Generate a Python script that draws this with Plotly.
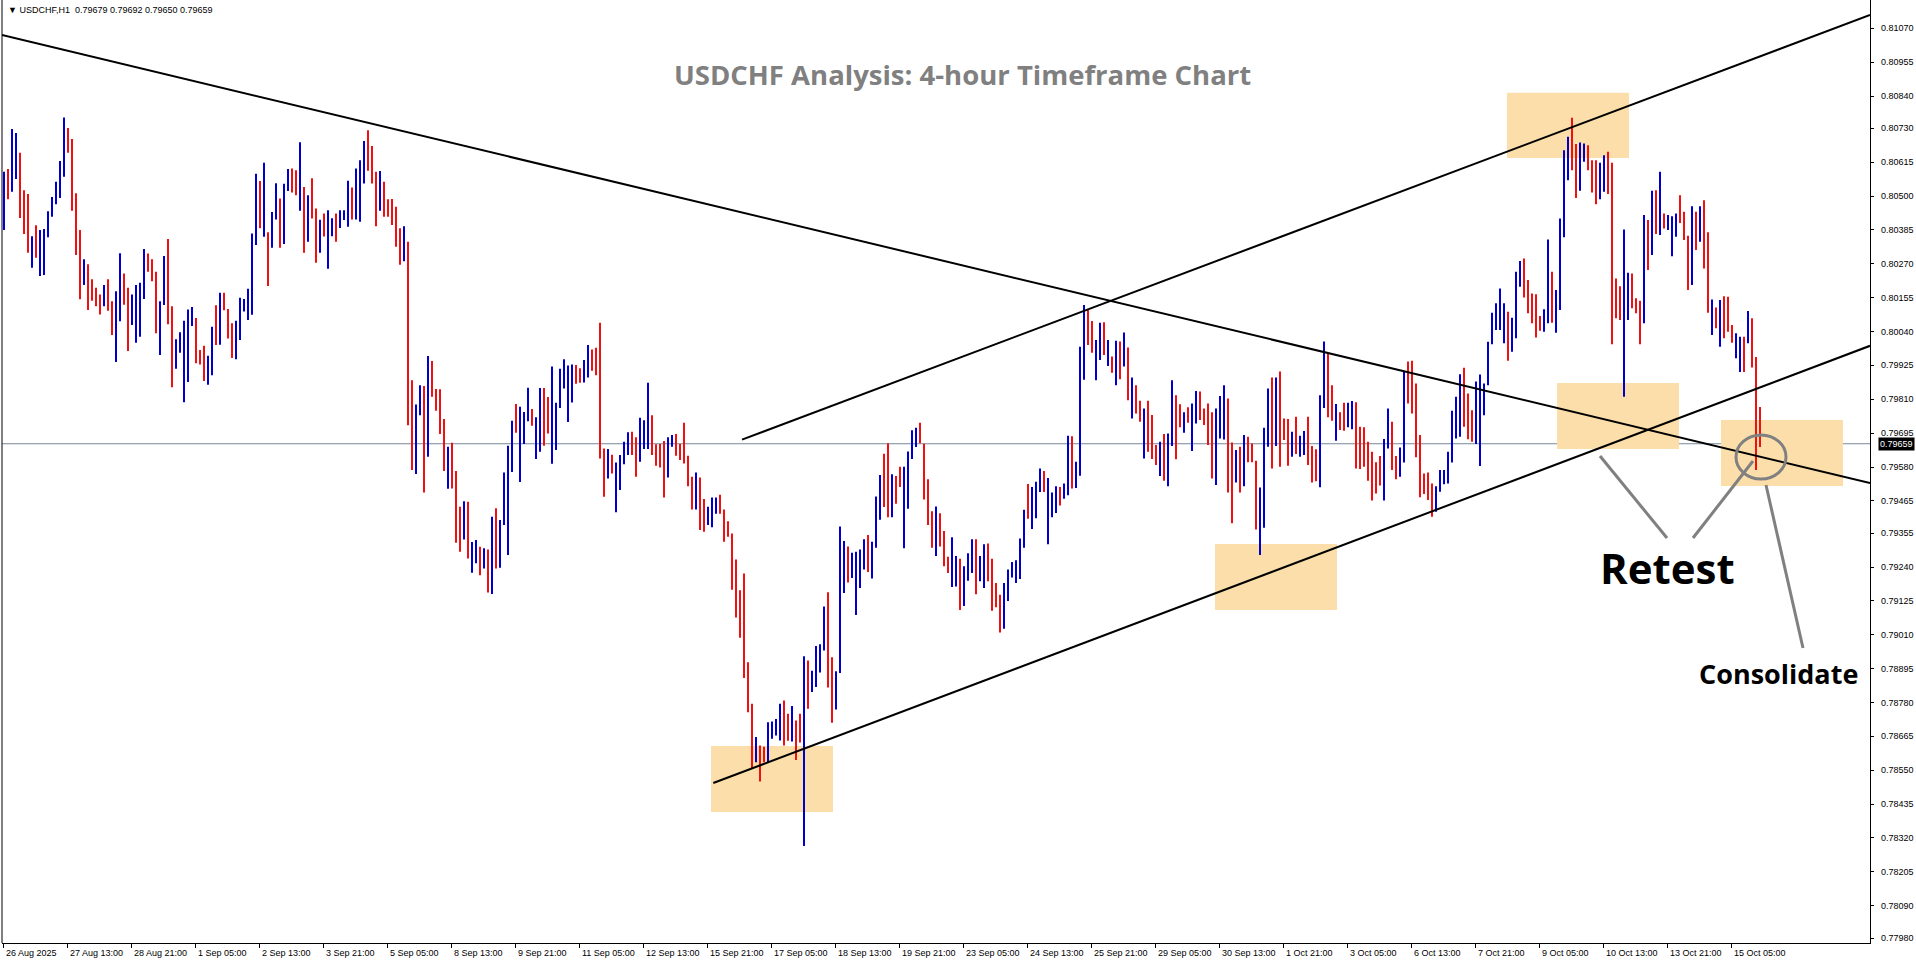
import plotly.graph_objects as go

# ---------------- data ----------------
header_text = "\u25bc USDCHF,H1\u00a0\u00a00.79679 0.79692 0.79650 0.79659"
title_text = "USDCHF Analysis: 4-hour Timeframe Chart"

# 2-hour bars (each = two H1 bars), prices in points (1e-5)
bar_high = [
    80583, 80592, 80728, 80714, 80647, 80520, 80507, 80364, 80401, 80385,
    80388, 80449, 80497, 80549, 80619, 80767, 80731, 80694, 80510, 80385,
    80286, 80269, 80218, 80189, 80166, 80198, 80218, 80143, 80177, 80306,
    80237, 80189, 80166, 80198, 80206, 80320, 80305, 80286, 80243, 80143,
    80297, 80354, 80126, 80014, 80038, 80077, 80115, 80123, 80086, 79977,
    79992, 79958, 80056, 80129, 80172, 80172, 80117, 80068, 80077, 80155,
    80151, 80185, 80373, 80576, 80551, 80613, 80377, 80446, 80544, 80492,
    80542, 80592, 80594, 80588, 80683, 80531, 80503, 80561, 80458, 80420,
    80441, 80452, 80425, 80441, 80452, 80452, 80552, 80529, 80594, 80622,
    80687, 80724, 80670, 80583, 80585, 80549, 80489, 80490, 80464, 80391,
    80398, 80345, 79875, 79792, 79858, 79855, 79957, 79940, 79845, 79844,
    79743, 79649, 79662, 79566, 79445, 79464, 79462, 79325, 79332, 79309,
    79304, 79300, 79411, 79440, 79400, 79561, 79652, 79737, 79794, 79785,
    79767, 79849, 79777, 79749, 79848, 79848, 79818, 79921, 79798, 79914,
    79946, 79925, 79928, 79926, 79915, 79943, 79994, 79979, 79985, 80070,
    79643, 79641, 79622, 79595, 79621, 79666, 79698, 79700, 79681, 79747,
    79739, 79866, 79756, 79657, 79658, 79668, 79681, 79689, 79692, 79658,
    79730, 79618, 79547, 79561, 79544, 79471, 79445, 79476, 79476, 79486,
    79436, 79396, 79354, 79266, 79161, 79218, 78917, 78776, 78663, 78634,
    78630, 78713, 78716, 78724, 78776, 78787, 78742, 78768, 78719, 78742,
    78937, 78923, 78888, 78972, 78978, 79106, 79155, 78934, 78886, 79378,
    79329, 79310, 79289, 79292, 79300, 79335, 79349, 79326, 79480, 79553,
    79625, 79661, 79555, 79549, 79581, 79581, 79633, 79705, 79713, 79730,
    79659, 79538, 79430, 79446, 79423, 79363, 79275, 79341, 79278, 79268,
    79243, 79287, 79335, 79335, 79278, 79318, 79320, 79268, 79186, 79146,
    79186, 79232, 79257, 79263, 79337, 79435, 79522, 79512, 79530, 79575,
    79566, 79543, 79493, 79515, 79512, 79524, 79686, 79684, 79598, 79988,
    80130, 80113, 80076, 80011, 80070, 80072, 80011, 79955, 80009, 80006,
    80037, 79986, 79884, 79858, 79805, 79779, 79805, 79757, 79655, 79666,
    79692, 79694, 79875, 79824, 79793, 79766, 79783, 79796, 79838, 79836,
    79779, 79796, 79766, 79779, 79821, 79858, 79813, 79663, 79638, 79649,
    79689, 79683, 79660, 79601, 79510, 79713, 79847, 79884, 79884, 79904,
    79745, 79743, 79700, 79751, 79686, 79702, 79751, 79651, 79640, 79824,
    80006, 79966, 79858, 79794, 79766, 79798, 79798, 79804, 79800, 79717,
    79715, 79666, 79632, 79596, 79617, 79675, 79779, 79734, 79617, 79646,
    79904, 79938, 79941, 79864, 79689, 79558, 79561, 79524, 79515, 79570,
    79570, 79632, 79771, 79819, 79895, 79917, 79830, 79773, 79870, 79894,
    79864, 80005, 80104, 80136, 80186, 80136, 80107, 80087, 80243, 80280,
    80288, 80215, 80169, 80167, 80093, 80116, 80353, 80243, 80181, 80424,
    80656, 80702, 80766, 80677, 80682, 80679, 80673, 80622, 80622, 80613,
    80639, 80651, 80613, 80220, 80194, 80387, 80240, 80237, 80153, 80145,
    80436, 80419, 80518, 80520, 80583, 80441, 80436, 80432, 80441, 80503,
    80447, 80365, 80466, 80447, 80466, 80486, 80377, 80149, 80122, 80147,
    80160, 80158, 80062, 80034, 80022, 80022, 80110, 80085, 79954, 79784,
]
bar_low = [
    80385, 80489, 80515, 80558, 80426, 80371, 80308, 80257, 80291, 80229,
    80232, 80360, 80430, 80472, 80494, 80566, 80647, 80450, 80300, 80150,
    80198, 80113, 80145, 80126, 80098, 80126, 80111, 80028, 79937, 80075,
    80131, 79974, 80062, 80002, 80022, 80151, 80243, 80211, 80034, 79960,
    80130, 80065, 79851, 79914, 79968, 79800, 79869, 80059, 79932, 79928,
    79872, 79859, 79892, 79994, 79995, 80112, 80016, 79950, 79946, 80011,
    80108, 80079, 80097, 80334, 80391, 80362, 80195, 80325, 80421, 80325,
    80337, 80517, 80512, 80503, 80450, 80308, 80345, 80424, 80274, 80308,
    80363, 80253, 80364, 80345, 80392, 80419, 80396, 80421, 80421, 80413,
    80543, 80586, 80543, 80398, 80450, 80430, 80430, 80402, 80328, 80267,
    80279, 79722, 79570, 79556, 79756, 79493, 79615, 79819, 79771, 79692,
    79566, 79506, 79507, 79323, 79292, 79334, 79269, 79221, 79253, 79212,
    79235, 79154, 79149, 79235, 79238, 79383, 79281, 79563, 79696, 79529,
    79658, 79735, 79720, 79607, 79632, 79652, 79694, 79591, 79638, 79780,
    79847, 79733, 79799, 79863, 79866, 79867, 79884, 79907, 79892, 79609,
    79479, 79541, 79558, 79426, 79502, 79589, 79621, 79621, 79547, 79598,
    79641, 79641, 79621, 79584, 79578, 79476, 79544, 79649, 79618, 79604,
    79592, 79515, 79436, 79436, 79366, 79360, 79383, 79375, 79421, 79421,
    79326, 79343, 79163, 79069, 79000, 78863, 78747, 78556, 78577, 78512,
    78577, 78577, 78657, 78668, 78651, 78634, 78650, 78648, 78585, 78644,
    78293, 78759, 78816, 78833, 78882, 78957, 78831, 78711, 78756, 78880,
    79152, 79188, 79203, 79077, 79169, 79232, 79223, 79201, 79306, 79401,
    79444, 79409, 79409, 79455, 79512, 79304, 79438, 79607, 79648, 79661,
    79470, 79383, 79306, 79278, 79310, 79243, 79220, 79172, 79174, 79094,
    79108, 79194, 79220, 79148, 79192, 79169, 79192, 79092, 79104, 79018,
    79031, 79125, 79205, 79186, 79200, 79306, 79404, 79369, 79406, 79495,
    79495, 79318, 79409, 79424, 79449, 79472, 79484, 79507, 79509, 79550,
    79876, 79994, 79968, 79875, 79943, 79960, 79923, 79900, 79858, 79878,
    79921, 79807, 79745, 79762, 79734, 79609, 79632, 79607, 79587, 79549,
    79533, 79515, 79651, 79606, 79715, 79696, 79730, 79634, 79728, 79740,
    79723, 79655, 79541, 79519, 79677, 79673, 79493, 79389, 79527, 79493,
    79515, 79596, 79596, 79368, 79281, 79374, 79649, 79575, 79651, 79581,
    79672, 79584, 79615, 79624, 79615, 79621, 79587, 79527, 79532, 79511,
    79780, 79749, 79737, 79669, 79706, 79703, 79715, 79708, 79575, 79573,
    79581, 79533, 79466, 79490, 79517, 79466, 79643, 79570, 79538, 79547,
    79595, 79796, 79762, 79613, 79477, 79488, 79468, 79411, 79428, 79496,
    79521, 79524, 79595, 79677, 79683, 79717, 79674, 79666, 79658, 79583,
    79756, 79858, 79997, 80045, 80045, 80000, 79941, 79971, 80017, 80192,
    80156, 80102, 80068, 80020, 80043, 80039, 80068, 80070, 80036, 80113,
    80360, 80554, 80588, 80494, 80518, 80617, 80588, 80512, 80472, 80489,
    80515, 80507, 79997, 80085, 80079, 79819, 80079, 80119, 80102, 79997,
    80068, 80249, 80300, 80371, 80368, 80390, 80385, 80296, 80362, 80409,
    80351, 80181, 80198, 80317, 80345, 80254, 80104, 80028, 80051, 79988,
    80017, 80039, 80002, 79949, 79903, 79903, 80000, 79918, 79570, 79648,
]
# u = up bar (blue), d = down bar (red)
bar_dir = (
    "uduud ddudu uuuuu udddd udddd udduu dduuu udddu udduu uuudd "
    "duudu ddduu uuuud uduud uuddu duddu duudu uuduu udddu ddddd "
    "udduu duddd duddd uduud ududu uuudu uuduu dduuu uuudd uuddd "
    "duduu uuddu uuddd duudd dddud duuud ddddd dddud duuuu ddudd "
    "uduuu udduu uduuu uduuu ddudd uuuud dddud dduud uuudu udddd "
    "uuuuu uduuu duuud uuduu udduu dudud ududd udddu duudd uduud "
    "ddduu uddud udddu uudud ddudu udddu uddud duudd ddddd uuddu "
    "udddd ddduu uuuuu ddduu uuuuu uduuu ddddd uuduu uuddu udddu "
    "udddd uuddd ududu duuud ddudu ddudu ddduu duddd"
).replace(" ", "")

# time axis labels (one every 32 H1 bars)
tick_labels = [
    "26 Aug 2025", "27 Aug 13:00", "28 Aug 21:00", "1 Sep 05:00", "2 Sep 13:00",
    "3 Sep 21:00", "5 Sep 05:00", "8 Sep 13:00", "9 Sep 21:00", "11 Sep 05:00",
    "12 Sep 13:00", "15 Sep 21:00", "17 Sep 05:00", "18 Sep 13:00", "19 Sep 21:00",
    "23 Sep 05:00", "24 Sep 13:00", "25 Sep 21:00", "29 Sep 05:00", "30 Sep 13:00",
    "1 Oct 21:00", "3 Oct 05:00", "6 Oct 13:00", "7 Oct 21:00", "9 Oct 05:00",
    "10 Oct 13:00", "13 Oct 21:00", "15 Oct 05:00",
]
label_every = 32

price_ticks = [
    0.81070, 0.80955, 0.80840, 0.80730, 0.80615, 0.80500, 0.80385, 0.80270,
    0.80155, 0.80040, 0.79925, 0.79810, 0.79695, 0.79580, 0.79465, 0.79355,
    0.79240, 0.79125, 0.79010, 0.78895, 0.78780, 0.78665, 0.78550, 0.78435,
    0.78320, 0.78205, 0.78090, 0.77980,
]
last_price = 0.79659

# analysis drawings, in (H1 bar index, price)
trend_down = [(-0.5, 0.810472), (933.5, 0.795256)]
trend_upper = [(369.5, 0.796730), (933.5, 0.811152)]
trend_lower = [(355.15, 0.785067), (933.5, 0.799916)]
zones = [  # x0, x1, y_top, y_bottom
    (752, 813, 0.808512, 0.806295),
    (777, 838, 0.798653, 0.796411),
    (859, 920, 0.797396, 0.795154),
    (606, 667, 0.793185, 0.790943),
    (354, 415, 0.786324, 0.784082),
]
pointer_lines = [
    ((798.5, 0.796173), (832.0, 0.793388)),
    ((875.0, 0.796004), (845.0, 0.793388)),
    ((881.5, 0.795188), (900.0, 0.789652)),
]
circle_box = (866.5, 891.5, 0.796887, 0.795392)
retest_pos = (832.0, 0.79240)
consolidate_pos = (887.5, 0.78880)

# ---------------- figure ----------------
X_MIN, X_MAX = -0.5, 933.5
Y_MIN, Y_MAX = 0.779633, 0.811661
BLUE = "#0000CC"
RED = "#EE1111"

xs_u, ys_u, xs_d, ys_d = [], [], [], []
for k, (h, l, d) in enumerate(zip(bar_high, bar_low, bar_dir)):
    x = 2 * k + 0.5
    if d == "u":
        xs_u += [x, x, None]
        ys_u += [l / 1e5, h / 1e5, None]
    else:
        xs_d += [x, x, None]
        ys_d += [l / 1e5, h / 1e5, None]

fig = go.Figure()
fig.add_trace(go.Scatter(x=xs_u, y=ys_u, mode="lines",
                         line=dict(color=BLUE, width=2), hoverinfo="skip"))
fig.add_trace(go.Scatter(x=xs_d, y=ys_d, mode="lines",
                         line=dict(color=RED, width=2), hoverinfo="skip"))

shapes = []
for x0, x1, yt, yb in zones:
    shapes.append(dict(type="rect", xref="x", yref="y", x0=x0, x1=x1, y0=yb, y1=yt,
                       fillcolor="#FCDEAB", line=dict(width=0), layer="below"))
shapes.append(dict(type="line", xref="paper", yref="y", x0=0, x1=1,
                   y0=last_price, y1=last_price,
                   line=dict(color="#778899", width=1), layer="below"))
for (p0, p1) in (trend_down, trend_upper, trend_lower):
    shapes.append(dict(type="line", xref="x", yref="y", x0=p0[0], y0=p0[1],
                       x1=p1[0], y1=p1[1], line=dict(color="black", width=2)))
for (a, b) in pointer_lines:
    shapes.append(dict(type="line", xref="x", yref="y", x0=a[0], y0=a[1],
                       x1=b[0], y1=b[1], line=dict(color="#808080", width=3)))
shapes.append(dict(type="circle", xref="x", yref="y", x0=circle_box[0], x1=circle_box[1],
                   y0=circle_box[3], y1=circle_box[2],
                   line=dict(color="#808080", width=3)))
shapes.append(dict(type="line", xref="paper", yref="paper", x0=0, x1=0, y0=0, y1=1,
                   line=dict(color="black", width=1)))

small_font = dict(family="Liberation Sans, Arial, sans-serif", size=9, color="black")

annotations = []
for i, lab in enumerate(tick_labels):
    annotations.append(dict(x=i * label_every, y=0, xref="x", yref="paper",
                            text=lab, showarrow=False, xanchor="left", yanchor="top",
                            xshift=1, yshift=-3, font=small_font))
for p in price_ticks:
    annotations.append(dict(x=1, y=p, xref="paper", yref="y", text=f"{p:.5f}",
                            showarrow=False, xanchor="left", yanchor="middle",
                            xshift=9, font=small_font))
annotations.append(dict(x=0, y=1, xref="paper", yref="paper", text=header_text,
                        showarrow=False, xanchor="left", yanchor="top",
                        xshift=4, yshift=-3, font=small_font))
annotations.append(dict(x=1, y=last_price, xref="paper", yref="y",
                        text=f"{last_price:.5f}", showarrow=False, xanchor="left",
                        yanchor="middle", xshift=8, bgcolor="black", borderpad=1,
                        font=dict(family="Liberation Sans, Arial, sans-serif",
                                  size=9, color="white")))
annotations.append(dict(x=0.5144, y=0.9205, xref="paper", yref="paper", text=title_text,
                        showarrow=False, xanchor="center", yanchor="middle",
                        font=dict(family="Open Sans, sans-serif", size=27.5,
                                  color="#808080", weight="bold")))
annotations.append(dict(x=retest_pos[0], y=retest_pos[1], xref="x", yref="y",
                        text="<b>Retest</b>", showarrow=False, xanchor="center",
                        yanchor="middle",
                        font=dict(family="Open Sans, sans-serif", size=42, color="black")))
annotations.append(dict(x=consolidate_pos[0], y=consolidate_pos[1], xref="x", yref="y",
                        text="<b>Consolidate</b>", showarrow=False, xanchor="center",
                        yanchor="middle",
                        font=dict(family="Open Sans, sans-serif", size=27, color="black")))

fig.update_layout(
    width=1916, height=964,
    margin=dict(l=2, r=46, t=0, b=21),
    paper_bgcolor="white", plot_bgcolor="white",
    showlegend=False,
    shapes=shapes, annotations=annotations,
    xaxis=dict(range=[X_MIN, X_MAX], showgrid=False, zeroline=False,
               showline=True, linecolor="black", linewidth=1,
               ticks="outside", ticklen=4, tickcolor="black",
               tickvals=[i * label_every for i in range(len(tick_labels))],
               showticklabels=False, fixedrange=True),
    yaxis=dict(range=[Y_MIN, Y_MAX], side="right", showgrid=False, zeroline=False,
               showline=True, linecolor="black", linewidth=1,
               ticks="outside", ticklen=3, tickcolor="black",
               tickvals=price_ticks, showticklabels=False, fixedrange=True),
)

fig.write_html("out.html",
               config={"displayModeBar": False, "staticPlot": True},
               post_script="document.body.style.margin='0';"
                           "document.body.style.overflow='hidden';")
